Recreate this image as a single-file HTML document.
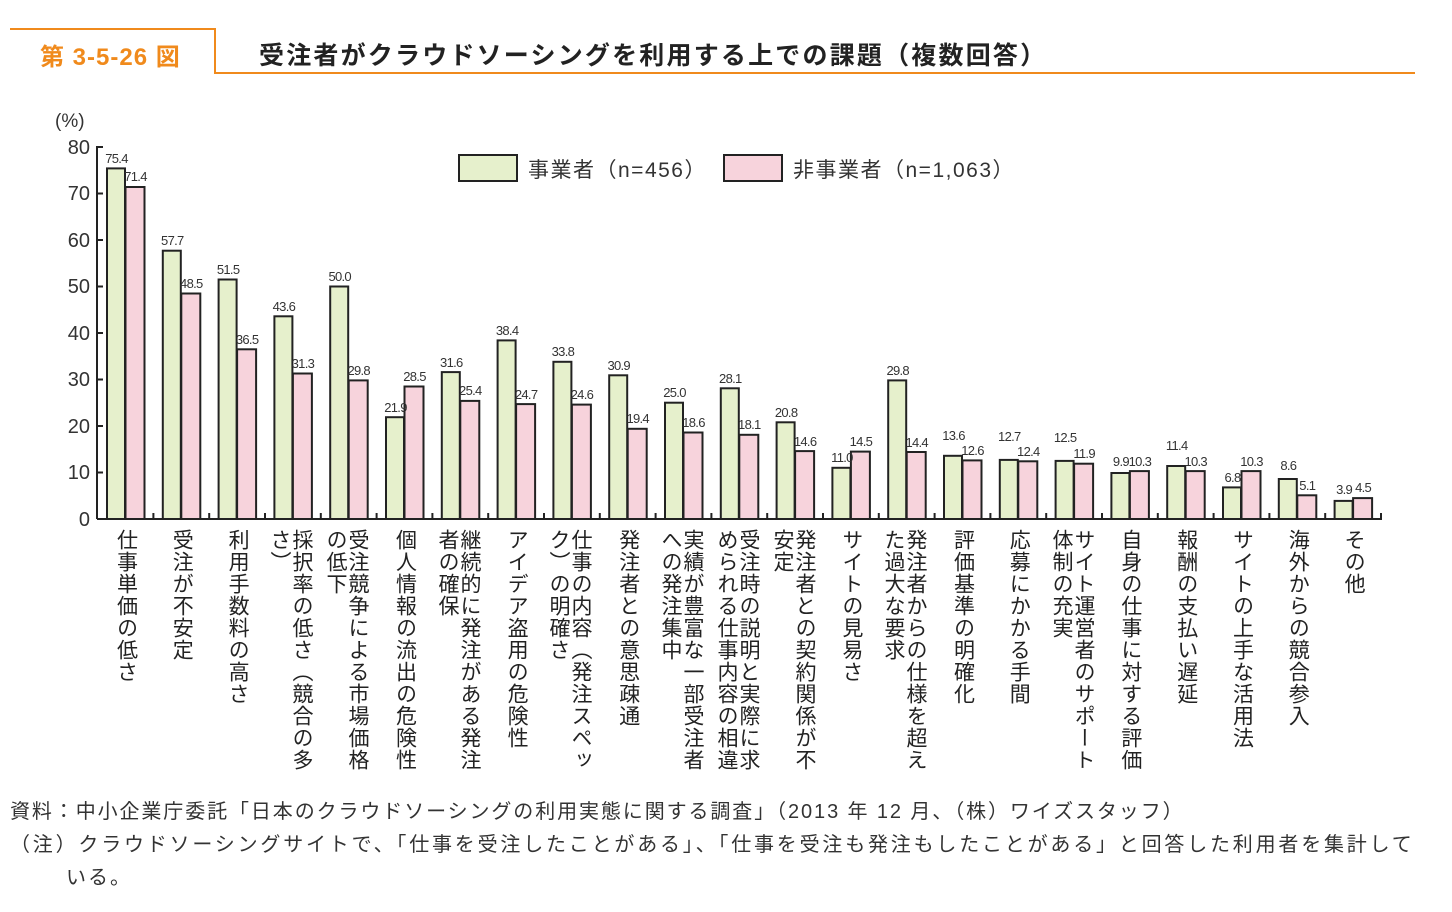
<!DOCTYPE html>
<html><head><meta charset="utf-8"><style>
body{margin:0;width:1452px;height:912px;background:#fff;position:relative;overflow:hidden;font-family:"Liberation Sans","Noto Sans CJK JP",sans-serif;color:#222}
.a{position:absolute;white-space:nowrap}
.lb{position:absolute;top:529px;height:248px;writing-mode:vertical-rl;font-size:21px;letter-spacing:1px;line-height:22px;transform:translateX(-50%);color:#222}
</style></head><body>
<svg class="a" style="left:0;top:0" width="1452" height="912">
<polyline points="10,29 215,29 215,73 1415,73" fill="none" stroke="#f08a1c" stroke-width="2"/>
<g stroke="#222" stroke-width="2" fill="none">
<line x1="97" y1="146" x2="97" y2="519"/>
<line x1="97" y1="519" x2="1382" y2="519"/>
<line x1="97" y1="147" x2="103" y2="147"/><line x1="97" y1="193.5" x2="103" y2="193.5"/><line x1="97" y1="240" x2="103" y2="240"/><line x1="97" y1="286.5" x2="103" y2="286.5"/><line x1="97" y1="333" x2="103" y2="333"/><line x1="97" y1="379.5" x2="103" y2="379.5"/><line x1="97" y1="426" x2="103" y2="426"/><line x1="97" y1="472.5" x2="103" y2="472.5"/>
</g>
<g stroke="#222" stroke-width="2">
<line x1="153.4" y1="513" x2="153.4" y2="519"/><line x1="209.2" y1="513" x2="209.2" y2="519"/><line x1="265" y1="513" x2="265" y2="519"/><line x1="320.8" y1="513" x2="320.8" y2="519"/><line x1="376.6" y1="513" x2="376.6" y2="519"/><line x1="432.4" y1="513" x2="432.4" y2="519"/><line x1="488.2" y1="513" x2="488.2" y2="519"/><line x1="544" y1="513" x2="544" y2="519"/><line x1="599.8" y1="513" x2="599.8" y2="519"/><line x1="655.6" y1="513" x2="655.6" y2="519"/><line x1="711.4" y1="513" x2="711.4" y2="519"/><line x1="767.2" y1="513" x2="767.2" y2="519"/><line x1="823" y1="513" x2="823" y2="519"/><line x1="878.8" y1="513" x2="878.8" y2="519"/><line x1="934.6" y1="513" x2="934.6" y2="519"/><line x1="990.4" y1="513" x2="990.4" y2="519"/><line x1="1046.2" y1="513" x2="1046.2" y2="519"/><line x1="1102" y1="513" x2="1102" y2="519"/><line x1="1157.8" y1="513" x2="1157.8" y2="519"/><line x1="1213.6" y1="513" x2="1213.6" y2="519"/><line x1="1269.4" y1="513" x2="1269.4" y2="519"/><line x1="1325.2" y1="513" x2="1325.2" y2="519"/><line x1="1381" y1="513" x2="1381" y2="519"/>
</g>
<g font-family="Liberation Sans, sans-serif" font-size="20" fill="#333" text-anchor="end">
<text x="90" y="154">80</text><text x="90" y="200">70</text><text x="90" y="247">60</text><text x="90" y="293">50</text><text x="90" y="340">40</text><text x="90" y="386">30</text><text x="90" y="433">20</text><text x="90" y="479">10</text><text x="90" y="526">0</text>
</g>
<text x="55" y="127" font-size="19" fill="#333" font-family="Liberation Sans, Noto Sans CJK JP, sans-serif">(%)</text>
<rect x="459" y="155" width="58" height="26" fill="#e6f0cc" stroke="#222" stroke-width="2"/>
<rect x="724" y="155" width="58" height="26" fill="#f7d3dc" stroke="#222" stroke-width="2"/>
<g font-size="13" letter-spacing="-0.7" text-anchor="middle" fill="#333" font-family="Liberation Sans, sans-serif" stroke="#222" stroke-width="2">
<g transform="translate(125.5,0)"><rect x="-18.5" y="168.4" width="18" height="350.6" fill="#e6f0cc"/><rect x="0" y="187" width="19" height="332" fill="#f7d3dc"/><text x="-9" y="163" stroke="none">75.4</text><text x="10" y="181" stroke="none">71.4</text></g>
<g transform="translate(181.3,0)"><rect x="-18.5" y="250.7" width="18" height="268.3" fill="#e6f0cc"/><rect x="0" y="293.5" width="19" height="225.5" fill="#f7d3dc"/><text x="-9" y="245" stroke="none">57.7</text><text x="10" y="288" stroke="none">48.5</text></g>
<g transform="translate(237.1,0)"><rect x="-18.5" y="279.5" width="18" height="239.5" fill="#e6f0cc"/><rect x="0" y="349.3" width="19" height="169.7" fill="#f7d3dc"/><text x="-9" y="274" stroke="none">51.5</text><text x="10" y="344" stroke="none">36.5</text></g>
<g transform="translate(292.9,0)"><rect x="-18.5" y="316.3" width="18" height="202.7" fill="#e6f0cc"/><rect x="0" y="373.5" width="19" height="145.5" fill="#f7d3dc"/><text x="-9" y="311" stroke="none">43.6</text><text x="10" y="368" stroke="none">31.3</text></g>
<g transform="translate(348.7,0)"><rect x="-18.5" y="286.5" width="18" height="232.5" fill="#e6f0cc"/><rect x="0" y="380.4" width="19" height="138.6" fill="#f7d3dc"/><text x="-9" y="281" stroke="none">50.0</text><text x="10" y="375" stroke="none">29.8</text></g>
<g transform="translate(404.5,0)"><rect x="-18.5" y="417.2" width="18" height="101.8" fill="#e6f0cc"/><rect x="0" y="386.5" width="19" height="132.5" fill="#f7d3dc"/><text x="-9" y="412" stroke="none">21.9</text><text x="10" y="381" stroke="none">28.5</text></g>
<g transform="translate(460.3,0)"><rect x="-18.5" y="372.1" width="18" height="146.9" fill="#e6f0cc"/><rect x="0" y="400.9" width="19" height="118.1" fill="#f7d3dc"/><text x="-9" y="367" stroke="none">31.6</text><text x="10" y="395" stroke="none">25.4</text></g>
<g transform="translate(516.1,0)"><rect x="-18.5" y="340.4" width="18" height="178.6" fill="#e6f0cc"/><rect x="0" y="404.1" width="19" height="114.9" fill="#f7d3dc"/><text x="-9" y="335" stroke="none">38.4</text><text x="10" y="399" stroke="none">24.7</text></g>
<g transform="translate(571.9,0)"><rect x="-18.5" y="361.8" width="18" height="157.2" fill="#e6f0cc"/><rect x="0" y="404.6" width="19" height="114.4" fill="#f7d3dc"/><text x="-9" y="356" stroke="none">33.8</text><text x="10" y="399" stroke="none">24.6</text></g>
<g transform="translate(627.7,0)"><rect x="-18.5" y="375.3" width="18" height="143.7" fill="#e6f0cc"/><rect x="0" y="428.8" width="19" height="90.2" fill="#f7d3dc"/><text x="-9" y="370" stroke="none">30.9</text><text x="10" y="423" stroke="none">19.4</text></g>
<g transform="translate(683.5,0)"><rect x="-18.5" y="402.7" width="18" height="116.3" fill="#e6f0cc"/><rect x="0" y="432.5" width="19" height="86.5" fill="#f7d3dc"/><text x="-9" y="397" stroke="none">25.0</text><text x="10" y="427" stroke="none">18.6</text></g>
<g transform="translate(739.3,0)"><rect x="-18.5" y="388.3" width="18" height="130.7" fill="#e6f0cc"/><rect x="0" y="434.8" width="19" height="84.2" fill="#f7d3dc"/><text x="-9" y="383" stroke="none">28.1</text><text x="10" y="429" stroke="none">18.1</text></g>
<g transform="translate(795.1,0)"><rect x="-18.5" y="422.3" width="18" height="96.7" fill="#e6f0cc"/><rect x="0" y="451.1" width="19" height="67.9" fill="#f7d3dc"/><text x="-9" y="417" stroke="none">20.8</text><text x="10" y="446" stroke="none">14.6</text></g>
<g transform="translate(850.9,0)"><rect x="-18.5" y="467.8" width="18" height="51.2" fill="#e6f0cc"/><rect x="0" y="451.6" width="19" height="67.4" fill="#f7d3dc"/><text x="-9" y="462" stroke="none">11.0</text><text x="10" y="446" stroke="none">14.5</text></g>
<g transform="translate(906.7,0)"><rect x="-18.5" y="380.4" width="18" height="138.6" fill="#e6f0cc"/><rect x="0" y="452" width="19" height="67" fill="#f7d3dc"/><text x="-9" y="375" stroke="none">29.8</text><text x="10" y="447" stroke="none">14.4</text></g>
<g transform="translate(962.5,0)"><rect x="-18.5" y="455.8" width="18" height="63.2" fill="#e6f0cc"/><rect x="0" y="460.4" width="19" height="58.6" fill="#f7d3dc"/><text x="-9" y="440" stroke="none">13.6</text><text x="10" y="455" stroke="none">12.6</text></g>
<g transform="translate(1018.3,0)"><rect x="-18.5" y="459.9" width="18" height="59.1" fill="#e6f0cc"/><rect x="0" y="461.3" width="19" height="57.7" fill="#f7d3dc"/><text x="-9" y="441" stroke="none">12.7</text><text x="10" y="456" stroke="none">12.4</text></g>
<g transform="translate(1074.1,0)"><rect x="-18.5" y="460.9" width="18" height="58.1" fill="#e6f0cc"/><rect x="0" y="463.7" width="19" height="55.3" fill="#f7d3dc"/><text x="-9" y="442" stroke="none">12.5</text><text x="10" y="458" stroke="none">11.9</text></g>
<g transform="translate(1129.9,0)"><rect x="-18.5" y="473" width="18" height="46" fill="#e6f0cc"/><rect x="0" y="471.1" width="19" height="47.9" fill="#f7d3dc"/><text x="-9" y="466" stroke="none">9.9</text><text x="10" y="466" stroke="none">10.3</text></g>
<g transform="translate(1185.7,0)"><rect x="-18.5" y="466" width="18" height="53" fill="#e6f0cc"/><rect x="0" y="471.1" width="19" height="47.9" fill="#f7d3dc"/><text x="-9" y="450" stroke="none">11.4</text><text x="10" y="466" stroke="none">10.3</text></g>
<g transform="translate(1241.5,0)"><rect x="-18.5" y="487.4" width="18" height="31.6" fill="#e6f0cc"/><rect x="0" y="471.1" width="19" height="47.9" fill="#f7d3dc"/><text x="-9" y="482" stroke="none">6.8</text><text x="10" y="466" stroke="none">10.3</text></g>
<g transform="translate(1297.3,0)"><rect x="-18.5" y="479" width="18" height="40" fill="#e6f0cc"/><rect x="0" y="495.3" width="19" height="23.7" fill="#f7d3dc"/><text x="-9" y="470" stroke="none">8.6</text><text x="10" y="490" stroke="none">5.1</text></g>
<g transform="translate(1353.1,0)"><rect x="-18.5" y="500.9" width="18" height="18.1" fill="#e6f0cc"/><rect x="0" y="498.1" width="19" height="20.9" fill="#f7d3dc"/><text x="-9" y="494" stroke="none">3.9</text><text x="10" y="492" stroke="none">4.5</text></g>
</g>
</svg>
<div class="a" style="left:40px;top:37px;font-size:24px;font-weight:bold;color:#f08a1c;letter-spacing:1px">第 3-5-26 図</div>
<div class="a" style="left:259px;top:36px;font-size:25px;font-weight:bold;color:#222;letter-spacing:2.2px">受注者がクラウドソーシングを利用する上での課題（複数回答）</div>
<div class="a" style="left:528px;top:154px;font-size:21px;color:#333;letter-spacing:1.5px">事業者（n=456）</div>
<div class="a" style="left:793px;top:154px;font-size:21px;color:#333;letter-spacing:1.5px">非事業者（n=1,063）</div>
<div class="lb" style="left:125.5px">仕事単価の低さ</div>
<div class="lb" style="left:181.3px">受注が不安定</div>
<div class="lb" style="left:237.1px">利用手数料の高さ</div>
<div class="lb" style="left:290px">採択率の低さ（競合の多さ）</div>
<div class="lb" style="left:346px">受注競争による市場価格の低下</div>
<div class="lb" style="left:404.5px">個人情報の流出の危険性</div>
<div class="lb" style="left:458px">継続的に発注がある発注者の確保</div>
<div class="lb" style="left:516.1px">アイデア盗用の危険性</div>
<div class="lb" style="left:569px">仕事の内容（発注スペック）の明確さ</div>
<div class="lb" style="left:627.7px">発注者との意思疎通</div>
<div class="lb" style="left:681px">実績が豊富な一部受注者への発注集中</div>
<div class="lb" style="left:737px">受注時の説明と実際に求められる仕事内容の相違</div>
<div class="lb" style="left:793px">発注者との契約関係が不安定</div>
<div class="lb" style="left:850.9px">サイトの見易さ</div>
<div class="lb" style="left:904px">発注者からの仕様を超えた過大な要求</div>
<div class="lb" style="left:962.5px">評価基準の明確化</div>
<div class="lb" style="left:1018.3px">応募にかかる手間</div>
<div class="lb" style="left:1072px">サイト運営者のサポート体制の充実</div>
<div class="lb" style="left:1129.9px">自身の仕事に対する評価</div>
<div class="lb" style="left:1185.7px">報酬の支払い遅延</div>
<div class="lb" style="left:1241.5px">サイトの上手な活用法</div>
<div class="lb" style="left:1297.3px">海外からの競合参入</div>
<div class="lb" style="left:1353.1px">その他</div>
<div class="a" style="left:10px;top:795px;font-size:20px;color:#333;letter-spacing:1.9px">資料：中小企業庁委託「日本のクラウドソーシングの利用実態に関する調査」（2013 年 12 月、（株）ワイズスタッフ）</div>
<div class="a" style="left:10px;top:828px;font-size:20px;color:#333;letter-spacing:2.8px">（注）クラウドソーシングサイトで、「仕事を受注したことがある」、「仕事を受注も発注もしたことがある」と回答した利用者を集計して</div>
<div class="a" style="left:66px;top:861px;font-size:20px;color:#333;letter-spacing:2px">いる。</div>
</body></html>
